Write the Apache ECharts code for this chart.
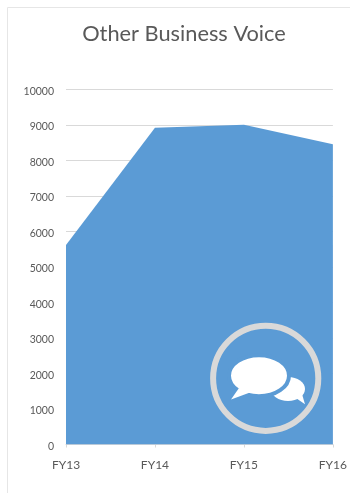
<!DOCTYPE html>
<html>
<head>
<meta charset="utf-8">
<style>html,body{margin:0;padding:0;background:#fff}#c{width:350px;height:493px}</style>
<script src="https://cdn.jsdelivr.net/npm/echarts@6/dist/echarts.min.js"></script>
</head>
<body>
<div id="c"></div>
<script>
const titleText = 'Other Business Voice';
const categories = ['FY13', 'FY14', 'FY15', 'FY16'];
const voiceValues = [5620, 8920, 9010, 8460];
const yMin = 0, yMax = 10000, yStep = 1000;

const FONT = 'Lato, "Open Sans", sans-serif';
const INK = '#595959';
const RULE = '#D9D9D9';
const BLUE = '#5B9BD5';

const chart = echarts.init(document.getElementById('c'), null, { renderer: 'canvas' });
chart.setOption({
  animation: false,
  backgroundColor: '#fff',
  title: {
    text: titleText, left: 179, top: 18, textAlign: 'center',
    textStyle: { fontFamily: FONT, fontWeight: 'normal', fontSize: 21.8, color: INK }
  },
  grid: { left: 66, right: 16.5, top: 89.5, bottom: 48.5 },
  xAxis: {
    type: 'category', boundaryGap: false, data: categories,
    axisLine: { lineStyle: { color: RULE, width: 1 } },
    axisTick: { show: true, length: 3, lineStyle: { color: RULE } },
    axisLabel: { fontFamily: FONT, fontSize: 12, color: INK, margin: 15, hideOverlap: false, showMaxLabel: true }
  },
  yAxis: {
    type: 'value', min: yMin, max: yMax, interval: yStep,
    axisLine: { show: false }, axisTick: { show: false },
    splitLine: { lineStyle: { color: RULE, width: 1 } },
    axisLabel: {
      margin: 12,
      formatter: v => `{v|${v}}`,
      // the extra top padding drops each number just below its gridline
      rich: { v: { fontFamily: FONT, fontSize: 10.5, color: INK, padding: [4, 0, 0, 0] } }
    }
  },
  series: [{
    type: 'line', data: voiceValues, symbol: 'none',
    lineStyle: { width: 0 }, areaStyle: { color: BLUE, opacity: 1 }
  }],
  graphic: [
    // card border: only its top and left edges fall inside the page
    { type: 'rect', z: 0, shape: { x: 7.5, y: 7.5, width: 360, height: 500 },
      style: { fill: 'none', stroke: '#E6E6E6', lineWidth: 1 } },
    // speech-bubble badge
    { type: 'circle', z: 10, shape: { cx: 265.7, cy: 378.3, r: 52.6 },
      style: { fill: 'none', stroke: '#D9D9D9', lineWidth: 6 } },
    // small bubble sits behind the large one
    { type: 'ellipse', z: 11, shape: { cx: 288, cy: 389, rx: 17, ry: 12 }, style: { fill: '#fff' } },
    { type: 'polygon', z: 11, shape: { points: [[293, 396], [302, 394], [305, 404.3]] }, style: { fill: '#fff' } },
    { type: 'ellipse', z: 12, shape: { cx: 259, cy: 375.7, rx: 30, ry: 20.5 },
      style: { fill: '#fff', stroke: BLUE, lineWidth: 4 } },
    { type: 'polygon', z: 13, shape: { points: [[239, 388], [250, 392.5], [231, 399.5]] }, style: { fill: '#fff' } }
  ]
});
</script>
</body>
</html>
